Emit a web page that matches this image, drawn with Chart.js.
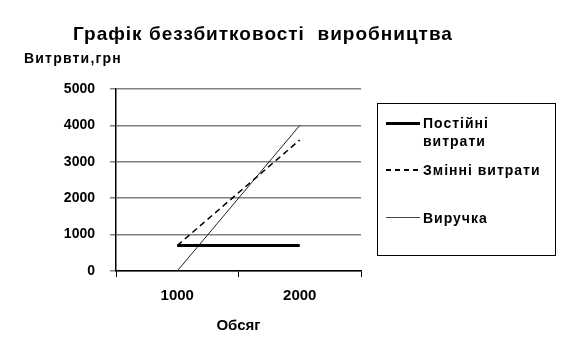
<!DOCTYPE html>
<html>
<head>
<meta charset="utf-8">
<script src="https://cdn.jsdelivr.net/npm/chart.js@4"></script>
<style>
    body { margin: 0; background: #fff; }
    #wrap { position: relative; width: 562px; height: 360px; font-family: "Liberation Sans", Arial, sans-serif; font-weight: bold; color: #000; }
    #wrap canvas { position: absolute; left: 0; top: 0; }
    .txt { position: absolute; white-space: nowrap; line-height: 1; }
    #title { left: 73px; top: 24px; font-size: 19px; letter-spacing: 1px; }
    #ytitle { left: 24px; top: 51px; font-size: 14px; letter-spacing: 1.2px; }
    #xtitle { left: 116px; width: 245px; top: 317px; text-align: center; font-size: 15px; }
    #legend { position: absolute; left: 377px; top: 103px; width: 177px; height: 151px; border: 1px solid #000; }
    .item { position: absolute; left: 0; font-size: 14px; white-space: nowrap; letter-spacing: 1px; }
    .sample { position: absolute; left: 8px; width: 34px; }
    .label { position: absolute; left: 45px; line-height: 18px; }
</style>
</head>
<body>
<div id="wrap">
    <canvas id="chart" width="562" height="360"></canvas>
    <div class="txt" id="title">Графік беззбитковості&nbsp; виробництва</div>
    <div class="txt" id="ytitle">Витрвти,грн</div>
    <div class="txt" id="xtitle">Обсяг</div>
    <div id="legend"></div>
</div>
<script>
const categories = ['1000', '2000'];
const fixedCosts = [700, 700];
const variableCosts = [700, 3600];
const revenue = [0, 4000];
const yTicks = [0, 1000, 2000, 3000, 4000, 5000];
const seriesNames = ['Постійні витрати', 'Змінні витрати', 'Виручка'];

const legendItems = [
    { text: 'Постійні<br>витрати', top: 10, style: 'height: 3px; background: #000;' },
    { text: 'Змінні витрати', top: 57, style: 'height: 1.5px; background: repeating-linear-gradient(to right, #000 0 5px, transparent 5px 9px);' },
    { text: 'Виручка', top: 105, style: 'height: 1px; background: #444;' }
];

const legend = document.getElementById('legend');
legendItems.forEach(item => {
    const el = document.createElement('div');
    el.className = 'item';
    el.style.top = item.top + 'px';
    el.innerHTML = `<div class="sample" style="top: 8px; ${item.style}"></div><div class="label">${item.text}</div>`;
    legend.appendChild(el);
});

const family = '"Liberation Sans", Arial, sans-serif';

new Chart(document.getElementById('chart'), {
    type: 'line',
    data: {
        labels: categories,
        datasets: [
            { label: seriesNames[0], data: fixedCosts, borderColor: '#000', borderWidth: 3 },
            { label: seriesNames[1], data: variableCosts, borderColor: '#000', borderWidth: 1.5, borderDash: [6, 4] },
            { label: seriesNames[2], data: revenue, borderColor: '#222', borderWidth: 1 }
        ]
    },
    options: {
        responsive: false,
        animation: false,
        events: [],
        elements: { point: { radius: 0 }, line: { tension: 0 } },
        layout: { padding: { top: 89, right: 201, left: 0, bottom: 0 } },
        plugins: { legend: { display: false }, title: { display: false }, tooltip: { enabled: false } },
        scales: {
            x: {
                type: 'category',
                offset: true,
                afterFit: scale => { scale.height = 89; },
                grid: { offset: true, drawOnChartArea: false, drawTicks: true, tickLength: 6, color: '#000', lineWidth: 1 },
                border: { color: '#000', width: 1.5 },
                ticks: { color: '#000', font: { family: family, size: 15, weight: 'bold' }, padding: 10 }
            },
            y: {
                min: 0,
                max: 5000,
                afterFit: scale => { scale.width = 116; },
                afterBuildTicks: scale => { scale.ticks = yTicks.map(v => ({ value: v })); },
                grid: { color: '#808080', lineWidth: 1.5, tickLength: 6 },
                border: { color: '#000', width: 1.5 },
                ticks: { color: '#000', font: { family: family, size: 14, weight: 'bold' }, padding: 15, callback: v => String(v) }
            }
        }
    }
});
</script>
</body>
</html>
